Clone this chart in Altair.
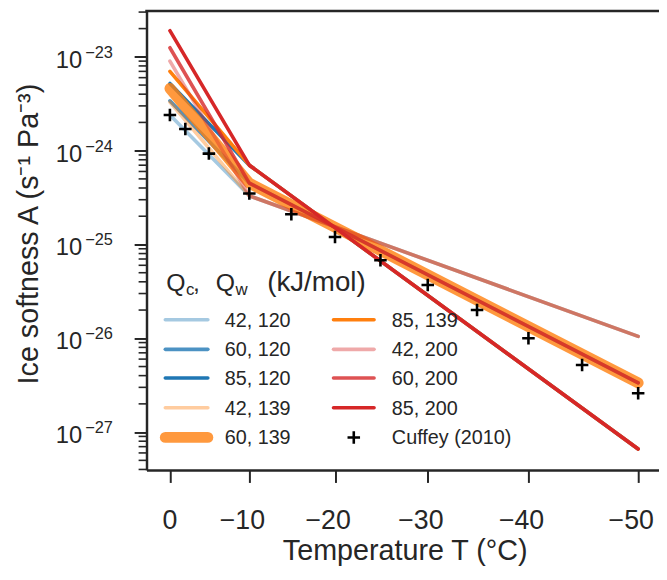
import altair as alt
import pandas as pd

# ---------------- data ----------------
line_T = [0, -10, -50]                       # temperature vertices (deg C)
series_labels = ["42, 120", "60, 120", "85, 120",
                 "42, 139", "60, 139", "85, 139",
                 "42, 200", "60, 200", "85, 200"]
A_42_120 = [2.4e-24, 3.3e-25, 1.05e-26]
A_60_120 = [3.4e-24, 4.5e-25, 3.35e-27]
A_85_120 = [5.2e-24, 7.0e-25, 6.6e-28]
A_42_139 = [3.3e-24, 3.3e-25, 1.05e-26]
A_60_139 = [4.6e-24, 4.5e-25, 3.35e-27]
A_85_139 = [7.0e-24, 7.0e-25, 6.6e-28]
A_42_200 = [9.0e-24, 3.3e-25, 1.05e-26]
A_60_200 = [1.25e-23, 4.5e-25, 3.35e-27]
A_85_200 = [1.9e-23, 7.0e-25, 6.6e-28]
series_values = [A_42_120, A_60_120, A_85_120, A_42_139, A_60_139,
                 A_85_139, A_42_200, A_60_200, A_85_200]

cuffey_label = "Cuffey (2010)"
cuffey_T = [0, -2, -5, -10, -15, -20, -25, -30, -35, -40, -45, -50]
cuffey_A = [2.4e-24, 1.7e-24, 9.3e-25, 3.5e-25, 2.1e-25, 1.2e-25,
            6.8e-26, 3.7e-26, 2.0e-26, 1.0e-26, 5.2e-27, 2.6e-27]

x_tick_T = [0, -10, -20, -30, -40, -50]
x_tick_labels = ["0", "\u221210", "\u221220", "\u221230", "\u221240", "\u221250"]
y_decades = [-27, -26, -25, -24, -23]
legend_title_parts = ["Q", "c", ",", "Q", "w", "(kJ/mol)"]
x_title = "Temperature T (°C)"
y_title = "Ice softness A (s⁻¹ Pa⁻³)"

# ---------------- styles ----------------
FONT = "Liberation Sans"
INK = "#262626"
base_colors = {"120": "#1f77b4", "139": "#ff7f0e", "200": "#d62728"}
alphas = {"42": 0.4, "60": 0.8, "85": 1.0}

lines_rows = []
for lab, vals in zip(series_labels, series_values):
    for t, a in zip(line_T, vals):
        lines_rows.append({"series": lab, "T": t, "A": a})
lines_df = pd.DataFrame(lines_rows)
cuffey_df = pd.DataFrame({"T": cuffey_T, "A": cuffey_A, "label": cuffey_label})

W, H = 518, 464
x_scale = alt.Scale(domain=[3.6200e-3, 4.5178e-3], nice=False, zero=False)
y_scale = alt.Scale(type="log", domain=[3.94e-28, 3.08e-23], nice=False)

x_axis = alt.Axis(
    values=[1 / (t + 273.15) for t in x_tick_T], labels=False,
    grid=False, tickSize=12.5, tickWidth=2, tickColor=INK,
    domainWidth=2.5, domainColor=INK,
    title=x_title, titleFont=FONT, titleFontSize=29, titleFontWeight="normal",
    titleColor=INK, titleX=261, titleY=90, titleBaseline="alphabetic",
)
y_axis = alt.Axis(
    values=[10.0 ** e for e in y_decades], labels=False,
    grid=False, tickSize=12.5, tickWidth=2, tickColor=INK,
    domainWidth=2.5, domainColor=INK,
    title=y_title, titleFont=FONT, titleFontSize=29, titleFontWeight="normal",
    titleColor=INK, titleX=-110, titleY=225, titleAngle=270,
    titleBaseline="alphabetic",
)

X_ENC = alt.X("invT:Q", scale=x_scale, axis=x_axis)


def Y_ENC(field):
    return alt.Y(field, scale=y_scale, axis=y_axis)


layers = []
for lab in series_labels:
    qc, qw = lab.split(", ")
    width = 11 if lab == "60, 139" else 3.6
    ch = alt.Chart(lines_df).transform_filter(
        alt.datum.series == lab
    ).transform_calculate(
        invT="1/(datum.T + 273.15)"
    ).mark_line(
        color=base_colors[qw], strokeOpacity=alphas[qc], strokeWidth=width,
        strokeCap="round", strokeJoin="round"
    ).encode(
        x=X_ENC,
        y=Y_ENC("A:Q"),
        order=alt.Order("invT:Q"),
    )
    layers.append(ch)

# minor y ticks
minor_vals = [m * 10.0 ** e for e in range(-28, -22) for m in range(2, 10)
              if 3.94e-28 <= m * 10.0 ** e <= 3.08e-23]
minor_df = pd.DataFrame({"A": minor_vals})
layers.append(alt.Chart(minor_df).mark_rule(color=INK, strokeWidth=1.6).encode(
    y=Y_ENC("A:Q"), x=alt.value(-8), x2=alt.value(0)))

# y tick labels 10^n
ylab_df = pd.DataFrame({"A": [10.0 ** e for e in y_decades],
                        "base": ["10"] * len(y_decades),
                        "exp": ["\u2212%d" % abs(e) for e in y_decades]})
layers.append(alt.Chart(ylab_df).mark_text(
    font=FONT, fontSize=24, color=INK, align="right", baseline="alphabetic", dy=11
).encode(y=Y_ENC("A:Q"), x=alt.value(-65), text="base:N"))
layers.append(alt.Chart(ylab_df).mark_text(
    font=FONT, fontSize=16.5, color=INK, align="left", baseline="alphabetic", dy=1
).encode(y=Y_ENC("A:Q"), x=alt.value(-62), text="exp:N"))

# x tick labels (matplotlib-style, minus labels sit slightly left)
xlab_df = pd.DataFrame({"T": x_tick_T, "lab": x_tick_labels})
for is_zero, shift in [(True, 0), (False, -7)]:
    layers.append(alt.Chart(xlab_df).transform_filter(
        (alt.datum.T == 0) if is_zero else (alt.datum.T != 0)
    ).transform_calculate(
        invT="1/(datum.T + 273.15)"
    ).mark_text(
        font=FONT, fontSize=27, color=INK, align="center", baseline="alphabetic", dx=shift
    ).encode(x=X_ENC, y=alt.value(524), text="lab:N"))

# top spine
layers.append(alt.Chart(pd.DataFrame({"a": [0]})).mark_rule(color=INK, strokeWidth=2.5).encode(
    x=alt.value(-1.25), x2=alt.value(W + 5), y=alt.value(0)))

PLUS = "M-1,0L1,0M0,-1L0,1"
# Cuffey points
layers.append(alt.Chart(cuffey_df).transform_calculate(
    invT="1/(datum.T + 273.15)"
).mark_point(shape=PLUS, filled=False, color="black", strokeWidth=2.6,
             size=160, opacity=1).encode(
    x=X_ENC, y=Y_ENC("A:Q")))

# ---------------- manual legend ----------------
row_y = [312, 342, 371, 401, 431]
cols = [(19, 62, 79), (189, 230, 248)]
entries = series_labels + [cuffey_label]
for i, lab in enumerate(entries):
    c, r = divmod(i, 5)
    x0, x1, xl = cols[c]
    yy = row_y[r]
    one = pd.DataFrame({"label": [lab]})
    if lab == cuffey_label:
        layers.append(alt.Chart(one).mark_point(
            shape=PLUS, filled=False, color="black", strokeWidth=2.6, size=160, opacity=1
        ).encode(x=alt.value((x0 + x1) / 2), y=alt.value(yy)))
    else:
        qc, qw = lab.split(", ")
        width = 11 if lab == "60, 139" else 3.6
        layers.append(alt.Chart(one).mark_rule(
            color=base_colors[qw], strokeOpacity=alphas[qc], strokeWidth=width,
            strokeCap="round"
        ).encode(x=alt.value(x0), x2=alt.value(x1), y=alt.value(yy)))
    layers.append(alt.Chart(one).mark_text(
        font=FONT, fontSize=20, color=INK, align="left", baseline="alphabetic"
    ).encode(x=alt.value(xl), y=alt.value(yy + 7), text="label:N"))

# legend title with subscripts
title_pos = [(20, 283, 25), (40, 287, 17), (47, 283, 25),
             (70, 283, 25), (90, 287, 17), (122, 283, 28)]
for part, (tx, ty, fs) in zip(legend_title_parts, title_pos):
    layers.append(alt.Chart(pd.DataFrame({"t": [part]})).mark_text(
        font=FONT, fontSize=fs, color=INK, align="left", baseline="alphabetic"
    ).encode(x=alt.value(tx), y=alt.value(ty), text="t:N"))

chart = alt.layer(*layers).properties(
    width=W, height=H,
    autosize=alt.AutoSizeParams(type="none"),
    padding={"left": 140, "top": 0, "right": 0, "bottom": 100},
).configure_view(stroke=None)

chart.save("out.html", embed_options={"renderer": "svg", "actions": False})
